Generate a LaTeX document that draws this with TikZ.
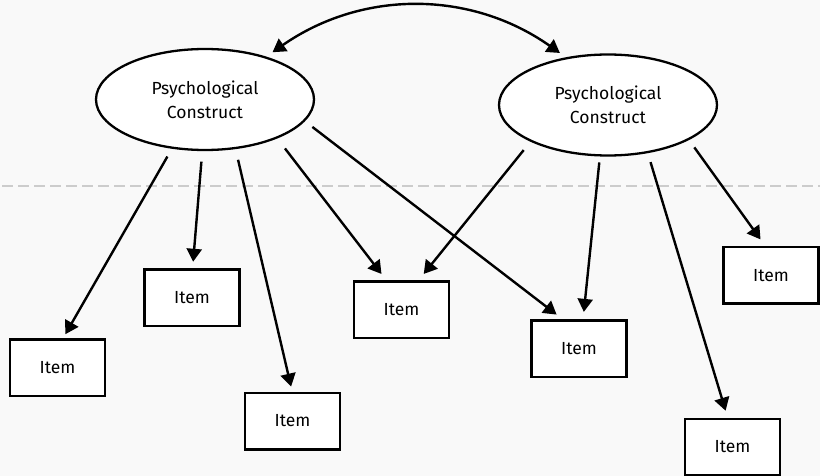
\documentclass[tikz,border=0pt]{standalone}
\usepackage{fontspec}
\setmainfont{Fira Sans}
\usetikzlibrary{arrows.meta,shapes.geometric,calc}
\definecolor{bg}{RGB}{249,249,249}
\definecolor{dashgray}{RGB}{204,204,204}
\begin{document}
\begin{tikzpicture}[x=1pt,y=-1pt,
  construct/.style={ellipse,draw,line width=2.3pt,fill=white,minimum width=218pt,minimum height=101pt,inner sep=0pt,outer sep=0pt,align=center,font=\fontsize{17.5}{24}\selectfont},
  item/.style={rectangle,draw,line width=2.5pt,fill=white,minimum width=95pt,minimum height=56.5pt,inner sep=0pt,outer sep=0pt,font=\fontsize{17.5}{20}\selectfont},
  arr/.style={line width=2.4pt,-{Triangle[length=13pt,width=15pt]}},
  dblarr/.style={line width=2.4pt,{Triangle[length=13pt,width=15pt]}-{Triangle[length=13pt,width=15pt]}},
  divider/.style={dashgray,line width=2pt,dash pattern=on 10.5pt off 5.5pt,dash phase=14pt}
]
\useasboundingbox (0,0) rectangle (820,476);
\fill[bg] (0,0) rectangle (820,476);
\coordinate (dl) at (0,186);
\coordinate (dr) at (820,186);
\draw[divider] (dl) -- (dr);

\node[construct] (e1) at (205,99.5) {Psychological\\Construct};
\node[construct] (e2) at (608,105) {Psychological\\Construct};

\node[item] (a) at (57.5,367.5) {Item};
\node[item] (b) at (192,297.7) {Item};
\node[item] (c) at (292.5,421) {Item};
\node[item] (m) at (401.5,309.5) {Item};
\node[item] (d) at (579,348.5) {Item};
\node[item] (r) at (771,275.3) {Item};
\node[item] (br) at (732.5,447) {Item};

\draw[arr, shorten <=10.2pt, shorten >=5.8pt] (e1.-124.6) -- (a.80.4);
\draw[arr, shorten <=11.7pt, shorten >=7.7pt] (e1.-93.7) -- (b.89.5);
\draw[arr, shorten <=12.1pt, shorten >=6.3pt] (e1.-58) -- (c.90.3);
\draw[arr, shorten <=13.7pt, shorten >=9.2pt] (e1.-28.9) -- (m.117.1);
\draw[arr, shorten <=10.5pt, shorten >=9.3pt] (e1.-12.1) -- (d.118.5);
\draw[arr, shorten <=11.9pt, shorten >=9.4pt] (e2.-155.8) -- (m.60.1);
\draw[arr, shorten <=7.1pt, shorten >=8.4pt] (e2.-99.7) -- (d.82.3);
\draw[arr, shorten <=10.5pt, shorten >=8.4pt] (e2.-50) -- (br.99.1);
\draw[arr, shorten <=10.2pt, shorten >=9.4pt] (e2.-23.7) -- (r.100.3);

\draw[dblarr, shorten <=9pt, shorten >=9pt] (e1.35.8) to[bend left=35] (e2.131.1);
\end{tikzpicture}
\end{document}
